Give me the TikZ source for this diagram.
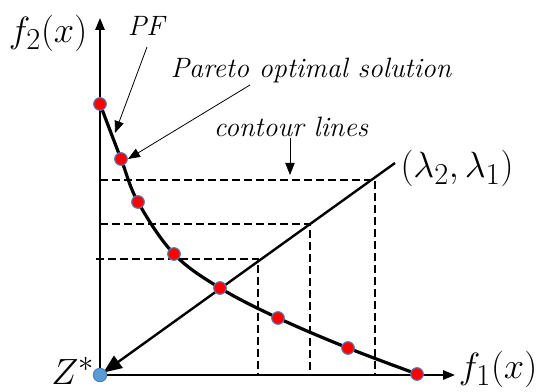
\documentclass[tikz,border=0pt]{standalone}
\usetikzlibrary{arrows.meta}
\definecolor{ptblue}{HTML}{4F81BD}
\definecolor{zblue}{HTML}{5B9BD5}
\begin{document}
\begin{tikzpicture}[x=0.75pt,y=-0.75pt,
  axis/.style={line width=1.5pt,-{Triangle[length=9pt,width=7pt]}},
  pfline/.style={line width=2.4pt},
  contour/.style={line width=1.3pt,dash pattern=on 6pt off 3pt},
  ray/.style={line width=1.8pt,-{Triangle[length=14pt,width=11pt]}},
  pt/.style={circle,fill=red,draw=ptblue,line width=0.8pt,minimum size=9.5pt,inner sep=0pt},
  zpt/.style={circle,fill=zblue,draw=ptblue,line width=0.8pt,minimum size=10pt,inner sep=0pt},
  ptr/.style={line width=0.6pt,-{Triangle[length=9pt,width=7pt]}},
  big/.style={font=\Huge,scale=1.1,inner sep=0pt},
  lbl/.style={font=\fontsize{21}{24}\selectfont\itshape,inner sep=0pt}]
\useasboundingbox (0,0) rectangle (540,392);
% coordinates
\coordinate (O) at (100,375);
\coordinate (ytop) at (100,18);
\coordinate (xend) at (455,375);
\coordinate (c1) at (100,104);
\coordinate (c2) at (121,159);
\coordinate (c3) at (138,202);
\coordinate (c4) at (174,254);
\coordinate (c5) at (220,288);
\coordinate (c6) at (278,318);
\coordinate (c7) at (348,348);
\coordinate (c8) at (417,374);
\coordinate (rayend) at (395,163);
\coordinate (h1) at (100,180);
\coordinate (k1) at (375,180);
\coordinate (b1) at (375,375);
\coordinate (h2) at (100,224);
\coordinate (k2) at (310,224);
\coordinate (b2) at (310,375);
\coordinate (h3) at (96,259);
\coordinate (k3) at (258,259);
\coordinate (b3) at (258,375);
% axes
\draw[axis] (O) -- (ytop);
\draw[axis] (O) -- (xend);
% contour lines
\draw[contour] (h1) -- (k1) -- (b1);
\draw[contour] (h2) -- (k2) -- (b2);
\draw[contour] (h3) -- (k3) -- (b3);
% Pareto front
\draw[pfline] plot[smooth,tension=0.6] coordinates {(c1) (c2) (c3) (c4) (c5) (c6) (c7) (c8)};
% ray
\draw[ray,shorten >=3pt] (rayend) -- (O);
% points
\foreach \i in {1,...,8} \node[pt] (p\i) at (c\i) {};
\node[zpt] (z) at (O) {};
% labels
\node[big] (f2) at (48,33) {$f_2(x)$};
\node[big] (f1) at (498,369) {$f_1(x)$};
\node[big] (zs) at (73,371) {$Z^{*}$};
\node[big] (lam) at (457,168) {$(\lambda_2,\lambda_1)$};
\node[lbl] (pf) at (146,26) {PF};
\node[lbl] (pos) at (311,71) {Pareto optimal solution};
\node[lbl] (cl) at (291,127) {contour lines};
\coordinate (cltip) at (290,175);
% pointers
\draw[ptr] (147,47) -- (115,133);
\draw[ptr] (250,85) -- (128,159);
\draw[ptr] (290,138) -- (cltip);
\end{tikzpicture}
\end{document}
